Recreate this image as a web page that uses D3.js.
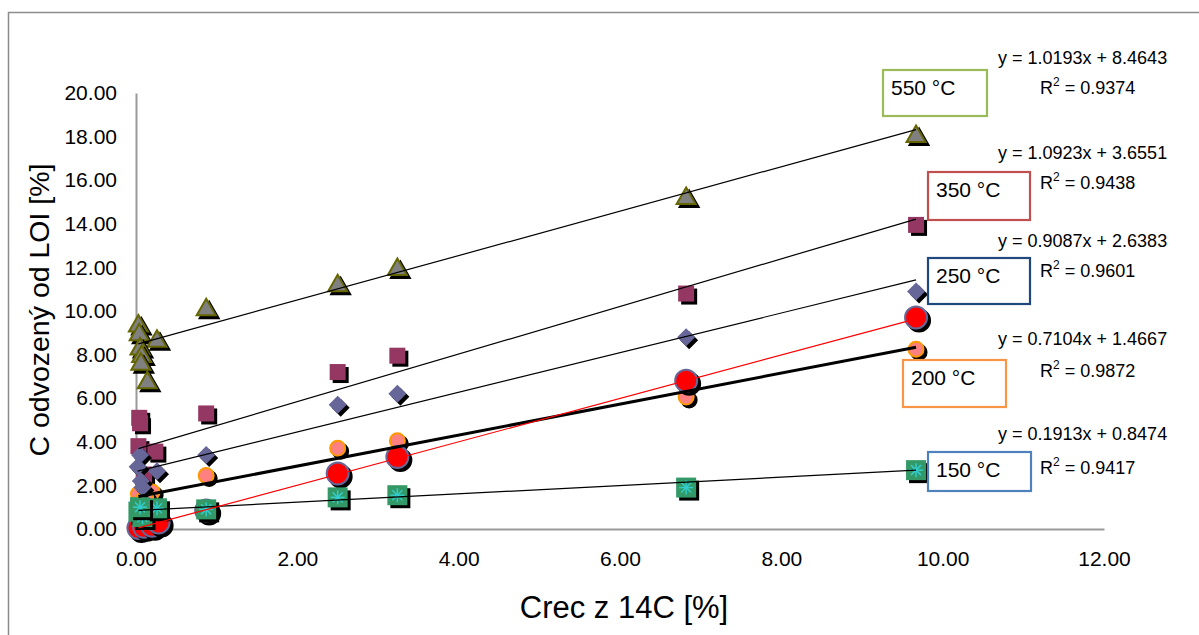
<!DOCTYPE html>
<html><head><meta charset="utf-8">
<script src="https://cdn.jsdelivr.net/npm/d3@7"></script>
<style>body{margin:0;background:#fff}svg{display:block;font-family:"Liberation Sans",Arial,sans-serif}</style>
</head><body>
<svg id="c" width="1199" height="635"></svg>
<script>
// ---- data ----
const xTicks = [0,2,4,6,8,10,12];
const yTicks = [0,2,4,6,8,10,12,14,16,18,20];

const x550 = [0.03,0.04,0.26,0.05,0.07,0.06,0.14,0.87,2.50,3.24,6.82,9.67];
const y550 = [9.40,9.00,8.70,8.35,8.00,7.65,6.80,10.15,11.25,12.00,15.25,18.10];

const x350 = [0.04,0.05,0.03,0.24,0.10,0.87,2.50,3.24,6.82,9.67];
const y350 = [5.10,4.85,3.80,3.55,2.50,5.30,7.20,7.95,10.80,13.95];

const x250 = [0.05,0.02,0.26,0.06,0.08,0.87,2.50,3.24,6.82,9.67];
const y250 = [3.40,2.85,2.65,2.20,1.90,3.40,5.70,6.20,8.80,10.90];

const x200 = [0.03,0.20,0.08,0.12,0.87,2.50,3.24,6.82,9.67];
const y200 = [1.60,1.70,1.30,1.45,2.45,3.70,4.05,6.05,8.25];

const xRed = [0.03,0.10,0.20,0.28,0.87,2.50,3.24,6.82,9.67];
const yRed = [0.05,0.10,0.15,0.30,0.85,2.55,3.30,6.80,9.70];

const x150 = [0.03,0.08,0.26,0.05,0.87,2.50,3.24,6.82,9.67];
const y150 = [0.80,0.55,0.95,1.00,0.90,1.45,1.55,1.90,2.70];

// trendline coefficients [slope, intercept]
const trend550 = [1.0193, 8.4643];
const trend350 = [1.0923, 3.6551];
const trend250 = [0.9087, 2.6383];
const trend200 = [0.7104, 1.4667];
const trend150 = [0.1913, 0.8474];
const trendRed = [0.995, 0.02];

const seriesNames = ["550 °C","350 °C","250 °C","200 °C","150 °C"];
const eqTexts = ["y = 1.0193x + 8.4643","y = 1.0923x + 3.6551","y = 0.9087x + 2.6383","y = 0.7104x + 1.4667","y = 0.1913x + 0.8474"];
const r2Values = ["0.9374","0.9438","0.9601","0.9872","0.9417"];

// ---- chart ----
const svg = d3.select("#c");
const x = d3.scaleLinear().domain([0,12]).range([136,1104]);
const y = d3.scaleLinear().domain([0,20]).range([529,93]);

svg.append("rect").attr("x",8.5).attr("y",12.5).attr("width",1200).attr("height",640)
  .attr("fill","none").attr("stroke","#8c8c8c").attr("stroke-width",1.5);

const ya = svg.append("g").attr("transform","translate(136,0)")
  .call(d3.axisLeft(y).tickValues(yTicks).tickSize(0).tickPadding(19).tickFormat(d3.format(".2f")));
const xa = svg.append("g").attr("transform","translate(0,529)")
  .call(d3.axisBottom(x).tickValues(xTicks).tickSize(0).tickPadding(22).tickFormat(d3.format(".2f")));
[ya,xa].forEach(a=>{
  a.select(".domain").attr("stroke","#9a9a9a").attr("stroke-width",2);
  a.selectAll("text").attr("font-size",21).attr("fill","#000").attr("font-family","Liberation Sans, Arial, sans-serif");
});

svg.append("text").attr("x",624).attr("y",618).attr("text-anchor","middle")
  .attr("font-size",31).text("Crec z 14C [%]");
svg.append("text").attr("transform","translate(49,310) rotate(-90)").attr("text-anchor","middle")
  .attr("font-size",28.5).text("C odvozený od LOI [%]");

const gM = svg.append("g");
function pts(xs,ys){ return xs.map((v,i)=>[v,ys[i]]); }

function drawSeries(data, drawFn){
  const g = gM.append("g");
  data.forEach(d=>{
    const cx = x(d[0]), cy = y(d[1]);
    drawFn(g, cx+3, cy+3, true);
    drawFn(g, cx, cy, false);
  });
}
const tri = (g,cx,cy,sh)=>g.append("path")
  .attr("d",`M${cx},${cy-9}L${cx+9.5},${cy+7.5}L${cx-9.5},${cy+7.5}Z`)
  .attr("fill",sh?"#000":"#808080").attr("stroke",sh?"#000":"#666600").attr("stroke-width",2);
const sq = (s,fill)=>(g,cx,cy,sh)=>g.append("rect").attr("x",cx-s/2).attr("y",cy-s/2).attr("width",s).attr("height",s)
  .attr("fill",sh?"#000":fill);
const dia = (g,cx,cy,sh)=>g.append("path")
  .attr("d",`M${cx},${cy-9}L${cx+9},${cy}L${cx},${cy+9}L${cx-9},${cy}Z`)
  .attr("fill",sh?"#000":"#666699");
const circ = (r,fill,stroke)=>(g,cx,cy,sh)=>g.append("circle").attr("cx",cx).attr("cy",cy).attr("r",r)
  .attr("fill",sh?"#000":fill).attr("stroke",sh?"#000":stroke).attr("stroke-width",2);
const greenSq = (g,cx,cy,sh)=>{
  g.append("rect").attr("x",cx-10).attr("y",cy-10).attr("width",20).attr("height",20).attr("fill",sh?"#000":"#339966");
  if(!sh){
    const a = g.append("g").attr("stroke","#33cccc").attr("stroke-width",1.5);
    a.append("line").attr("x1",cx-7).attr("x2",cx+7).attr("y1",cy).attr("y2",cy);
    a.append("line").attr("x1",cx).attr("x2",cx).attr("y1",cy-7).attr("y2",cy+7);
    a.append("line").attr("x1",cx-5).attr("x2",cx+5).attr("y1",cy-5).attr("y2",cy+5);
    a.append("line").attr("x1",cx-5).attr("x2",cx+5).attr("y1",cy+5).attr("y2",cy-5);
  }
};

drawSeries(pts(x550,y550), tri);
drawSeries(pts(x350,y350), sq(16,"#953763"));
drawSeries(pts(x200,y200), circ(7.5,"#ff8080","#ff9900"));
drawSeries(pts(x250,y250), dia);
drawSeries(pts(xRed,yRed), circ(11,"#ff0000","#666699"));
drawSeries(pts(x150,y150), greenSq);

// trendlines
function trend(xs, c, color, w){
  const [a,b] = d3.extent(xs);
  svg.append("line").attr("x1",x(a)).attr("y1",y(c[0]*a+c[1]))
    .attr("x2",x(b)).attr("y2",y(c[0]*b+c[1]))
    .attr("stroke",color).attr("stroke-width",w);
}
trend(x550,trend550,"#000",1.2);
trend(x350,trend350,"#000",1.2);
trend(x250,trend250,"#000",1.2);
trend(x200,trend200,"#000",3);
trend(x150,trend150,"#000",1.2);
trend(xRed,trendRed,"#ff0000",1.2);

// label boxes
const boxes = [
  {x:883,y:70,w:104,h:46,c:"#9bbb59"},
  {x:928,y:172,w:102,h:48,c:"#c0504d"},
  {x:928,y:258,w:102,h:46,c:"#1f497d"},
  {x:903,y:360,w:103,h:47,c:"#f79646"},
  {x:928,y:452,w:103,h:39,c:"#4f81bd"}
];
boxes.forEach((b,i)=>{
  svg.append("rect").attr("x",b.x).attr("y",b.y).attr("width",b.w).attr("height",b.h)
    .attr("fill","#fff").attr("stroke",b.c).attr("stroke-width",2.2);
  svg.append("text").attr("x",b.x+8).attr("y",b.y+25).attr("font-size",21).text(seriesNames[i]);
});

// equations
const eqY = [64,159,247,345,440];
const r2Y = [94,189,277,377,474];
eqTexts.forEach((t,i)=>{
  svg.append("text").attr("x",998).attr("y",eqY[i]).attr("font-size",18).text(t);
  const tt = svg.append("text").attr("x",1040).attr("y",r2Y[i]).attr("font-size",18);
  tt.append("tspan").text("R");
  tt.append("tspan").attr("dy",-8).attr("font-size",12).text("2");
  tt.append("tspan").attr("dy",8).text(" = "+r2Values[i]);
});
</script>
</body></html>
